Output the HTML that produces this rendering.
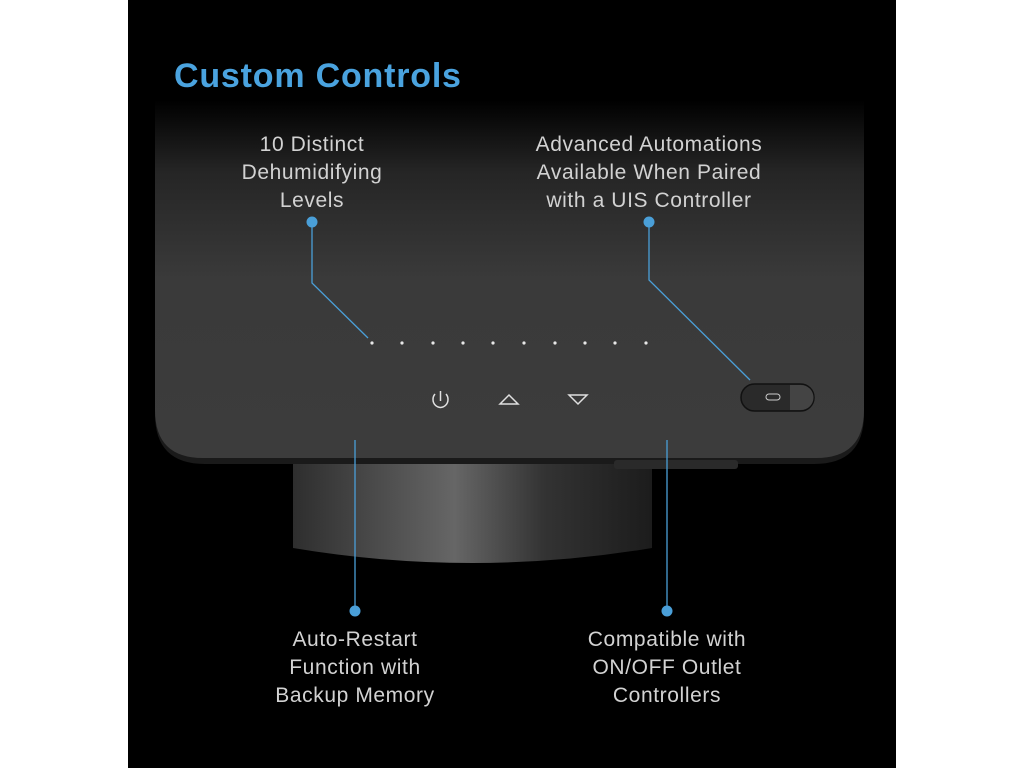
<!DOCTYPE html>
<html><head><meta charset="utf-8"><style>
html,body{margin:0;padding:0;width:1024px;height:768px;overflow:hidden;background:#fff}
.stage{position:absolute;left:128px;top:0;width:768px;height:768px;background:#000}
.t{position:absolute;font-family:"Liberation Sans",sans-serif;color:#d2d2d2;font-size:21px;letter-spacing:0.6px;line-height:28px;text-align:center;white-space:nowrap}
</style></head><body>
<div class="stage"></div>
<svg width="1024" height="768" style="position:absolute;left:0;top:0">
<defs>
<linearGradient id="pg" x1="0" y1="0" x2="0" y2="1">
<stop offset="0" stop-color="#000"/>
<stop offset="0.2" stop-color="#252525"/>
<stop offset="0.5" stop-color="#3a3a3a"/>
<stop offset="1" stop-color="#3c3c3c"/>
</linearGradient>
<linearGradient id="cg" x1="0" y1="0" x2="1" y2="0">
<stop offset="0" stop-color="#2e2e2e"/>
<stop offset="0.45" stop-color="#666"/>
<stop offset="0.7" stop-color="#333"/>
<stop offset="1" stop-color="#1c1c1c"/>
</linearGradient>
</defs>
<path d="M293,462 L652,462 L652,548 Q472,578 293,548 Z" fill="url(#cg)"/>
<path d="M155,100 L864,100 L864,414 Q864,464 814,464 L205,464 Q155,464 155,414 Z" fill="#1a1a1a"/>
<path d="M155,100 L864,100 L864,410 Q864,458 816,458 L203,458 Q155,458 155,410 Z" fill="url(#pg)"/>
<rect x="614" y="460" width="124" height="9" rx="3" fill="#2a2a2a"/>
<g fill="#e8e8e8">
<circle cx="372" cy="343" r="1.6"/><circle cx="402" cy="343" r="1.6"/><circle cx="433" cy="343" r="1.6"/><circle cx="463" cy="343" r="1.6"/><circle cx="493" cy="343" r="1.6"/><circle cx="524" cy="343" r="1.6"/><circle cx="555" cy="343" r="1.6"/><circle cx="585" cy="343" r="1.6"/><circle cx="615" cy="343" r="1.6"/><circle cx="646" cy="343" r="1.6"/>
</g>
<g stroke="#e0e0e0" stroke-width="1.5" fill="none">
<path d="M435,394 A7.5,8 0 1 0 446,394"/><line x1="440.5" y1="391" x2="440.5" y2="401"/>
<path d="M500,404 L509,395 L518,404 Z"/>
<path d="M569,395 L587,395 L578,404 Z"/>
</g>
<rect x="741" y="384" width="73" height="27" rx="13.5" fill="#2a2a2a" stroke="#111" stroke-width="1.5"/>
<path d="M790,385 L801,385 A12,12 0 0 1 801,410 L790,410 Z" fill="#444"/>
<rect x="766" y="394" width="14" height="6" rx="3" fill="none" stroke="#ccc" stroke-width="1"/>
<g stroke="#4a9fd8" stroke-width="1.3" fill="none">
<polyline points="312,222 312,283 368,338"/>
<polyline points="649,222 649,280 750,380"/>
<line x1="355" y1="440" x2="355" y2="610"/>
<line x1="667" y1="440" x2="667" y2="610"/>
</g>
<g fill="#4a9fd8">
<circle cx="312" cy="222" r="5.5"/><circle cx="649" cy="222" r="5.5"/>
<circle cx="355" cy="611" r="5.5"/><circle cx="667" cy="611" r="5.5"/>
</g>
</svg>
<div class="t" style="left:174px;top:56px;font-size:34px;letter-spacing:0.8px;font-weight:bold;color:#4aa3df;line-height:40px;text-align:left">Custom Controls</div>
<div class="t" style="left:162px;top:131px;width:300px">10 Distinct<br>Dehumidifying<br>Levels</div>
<div class="t" style="left:479px;top:131px;width:340px">Advanced Automations<br>Available When Paired<br>with a UIS Controller</div>
<div class="t" style="left:205px;top:626px;width:300px">Auto-Restart<br>Function with<br>Backup Memory</div>
<div class="t" style="left:517px;top:626px;width:300px">Compatible with<br>ON/OFF Outlet<br>Controllers</div>
</body></html>
